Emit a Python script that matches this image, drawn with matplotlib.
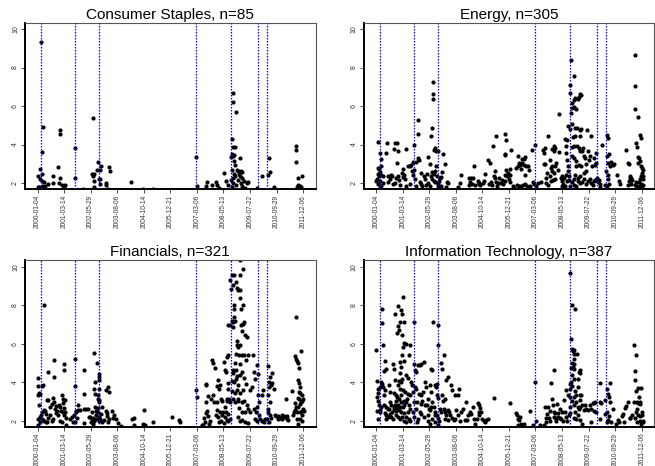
import matplotlib
matplotlib.use('Agg')
import matplotlib.pyplot as plt

plt.rcParams['font.family'] = ['Liberation Sans', 'DejaVu Sans']

titles = ['Consumer Staples, n=85', 'Energy, n=305', 'Financials, n=321',
          'Information Technology, n=387']
tick_days = [1, 301, 601, 901, 1201, 1501, 1801, 2101, 2401, 2701, 3001]
tick_labels = ['2000-01-04', '2001-03-14', '2002-05-29', '2003-08-06', '2004-10-14',
               '2005-12-21', '2007-03-06', '2008-05-13', '2009-07-22', '2010-09-29',
               '2011-12-06']
event_days = [42, 423, 694, 1793, 2189, 2494, 2596]
y_ticks = [2, 4, 6, 8, 10]

# (trading day index, value)
cs_pts = [(39, 9.31), (65, 4.91), (46, 3.59), (31, 2.75), (9, 2.38), (54, 2.47), (31, 2.21),
          (46, 2.12), (69, 2.03), (114, 1.97), (88, 1.86), (20, 1.77), (1, 1.77), (46, 1.83),
          (174, 2.38), (178, 2.0), (235, 2.83), (253, 4.77), (253, 4.56), (257, 2.24),
          (238, 2.0), (276, 1.91), (299, 1.86), (314, 1.91), (295, 1.77), (427, 3.80),
          (423, 2.28), (513, 1.71), (630, 5.38), (619, 2.49), (634, 2.49), (626, 2.35),
          (638, 2.10), (634, 1.79), (675, 2.66), (686, 3.07), (702, 2.69), (694, 2.21),
          (709, 2.21), (717, 2.87), (709, 1.95), (769, 2.0), (777, 1.90), (803, 2.83),
          (822, 2.64), (799, 1.69), (1052, 2.03), (1187, 1.71), (1300, 1.71),
          (1793, 3.35), (1804, 1.83), (1902, 1.83), (1914, 2.03), (1970, 1.91), (2015, 2.07),
          (2034, 1.90), (2053, 1.74), (2113, 2.52), (2132, 2.12), (2158, 1.91), (2207, 6.68),
          (2211, 6.23), (2245, 5.69), (2196, 4.30), (2215, 3.85), (2234, 3.85), (2196, 3.53),
          (2207, 3.39), (2226, 3.47), (2185, 3.33), (2286, 3.30), (2222, 3.14), (2230, 2.94),
          (2196, 2.66), (2249, 2.66), (2264, 2.61), (2301, 2.64), (2316, 2.59), (2279, 2.49),
          (2219, 2.49), (2234, 2.35), (2294, 2.38), (2316, 2.26), (2207, 2.24), (2188, 2.17),
          (2271, 2.17), (2215, 2.0), (2301, 2.0), (2332, 2.09), (2241, 1.90), (2196, 1.77),
          (2309, 1.83), (2347, 1.74), (2369, 2.0), (2384, 2.07), (2475, 1.76), (2542, 2.38),
          (2607, 2.42), (2618, 3.28), (2629, 2.59), (2674, 1.79), (2919, 3.91), (2923, 3.72),
          (2919, 3.09), (2945, 2.28), (2987, 2.35), (2949, 1.88), (2964, 1.83), (2934, 1.77),
          (2979, 1.77)]

en_pts = [(27, 4.11), (42, 3.54), (54, 3.25), (61, 2.90), (16, 2.78), (31, 2.73), (39, 2.55),
          (20, 2.45), (61, 2.42), (77, 2.38), (9, 2.21), (31, 2.35), (1, 2.09), (46, 2.09),
          (20, 1.95), (39, 1.83), (61, 1.83), (77, 2.0), (125, 4.08), (110, 3.56), (137, 2.35),
          (152, 2.21), (129, 2.03), (167, 2.43), (178, 2.35), (190, 1.97), (201, 3.77),
          (216, 4.06), (235, 4.06), (253, 3.68), (238, 3.04), (220, 2.26), (242, 2.38),
          (257, 2.14), (212, 2.0), (272, 1.91), (306, 2.31), (291, 2.52), (303, 2.73),
          (318, 2.42), (333, 3.77), (321, 2.21), (340, 1.83), (378, 1.93), (359, 2.90),
          (382, 2.90), (397, 2.94), (415, 3.07), (408, 2.61), (427, 3.99), (419, 2.43),
          (430, 2.66), (446, 3.07), (438, 2.21), (453, 1.86), (468, 5.26), (472, 4.56),
          (476, 3.28), (483, 3.21), (491, 2.03), (510, 1.95), (521, 1.83), (536, 2.35),
          (551, 2.21), (513, 2.54), (589, 3.35), (574, 2.49), (604, 3.0), (585, 2.0),
          (604, 1.83), (566, 1.88), (626, 4.43), (634, 4.86), (645, 7.23), (641, 6.64),
          (638, 6.38), (649, 3.70), (664, 3.80), (679, 3.65), (656, 2.49), (671, 2.61),
          (630, 2.55), (622, 2.35), (634, 2.21), (649, 2.12), (664, 2.03), (679, 2.87),
          (683, 2.35), (702, 3.65), (694, 1.88), (698, 2.0), (709, 2.10), (717, 2.24),
          (728, 2.31), (705, 1.74), (732, 1.83), (747, 2.55), (754, 3.51), (777, 3.01),
          (799, 2.07), (818, 2.0), (792, 1.79), (927, 1.79), (950, 2.0), (965, 2.40),
          (1104, 2.87), (1055, 2.26), (1074, 2.26), (1093, 2.26), (1063, 2.03), (1086, 1.97),
          (1055, 1.88), (1112, 1.88), (1153, 2.12), (1161, 1.97), (1168, 2.0), (1176, 1.90),
          (1236, 2.49), (1217, 2.09), (1206, 2.0), (1263, 3.21), (1289, 3.04), (1311, 1.88),
          (1281, 1.97), (1304, 2.03), (1319, 3.91), (1338, 2.61), (1353, 4.46), (1334, 2.35),
          (1349, 2.24), (1357, 2.07), (1368, 1.86), (1379, 2.0), (1394, 2.26), (1417, 2.17),
          (1409, 2.0), (1432, 1.95), (1462, 4.53), (1470, 4.22), (1455, 3.49), (1451, 3.46),
          (1470, 2.69), (1462, 2.42), (1477, 2.38), (1488, 2.52), (1455, 2.09),
          (1511, 2.43), (1526, 3.73), (1515, 2.73), (1499, 2.21), (1518, 2.07), (1545, 1.86),
          (1556, 1.74), (1601, 3.42), (1620, 3.04), (1631, 2.92), (1609, 2.87), (1639, 2.73),
          (1586, 2.78), (1654, 3.25), (1669, 3.25), (1688, 3.35), (1654, 3.04), (1676, 2.94),
          (1699, 2.87), (1722, 2.87), (1688, 2.40), (1729, 2.69), (1594, 1.91), (1616, 1.86),
          (1639, 1.83), (1661, 1.91), (1680, 1.95), (1707, 1.83), (1737, 1.83), (1767, 3.73),
          (1797, 3.99), (1774, 2.05), (1789, 1.97), (1804, 1.83), (1835, 2.0), (1865, 2.03),
          (1891, 3.73), (1899, 3.56), (1910, 3.82), (1895, 3.01), (1914, 2.99), (1932, 2.52),
          (1948, 4.43), (1925, 2.26), (1917, 2.0), (1940, 1.90), (1970, 3.21), (1989, 3.77),
          (2008, 3.91), (2023, 3.84), (2008, 3.65), (1989, 2.90), (1978, 2.76), (2027, 2.87),
          (2038, 3.04), (1993, 2.61), (2015, 2.52), (1970, 2.35), (1981, 2.12), (2000, 2.14),
          (2027, 2.21), (2053, 2.69), (2068, 5.59), (2072, 3.63), (2091, 2.24), (2102, 2.10),
          (2106, 2.35), (2121, 2.26), (2113, 1.93), (2136, 1.86), (2106, 1.83), (2151, 3.56),
          (2158, 3.21), (2140, 4.29), (2151, 3.91), (2170, 2.87), (2143, 2.43), (2158, 4.25),
          (2173, 4.98), (2188, 4.81), (2166, 2.61), (2181, 2.35), (2177, 2.17), (2158, 2.09),
          (2188, 1.83), (2196, 7.11), (2196, 6.68), (2207, 8.41), (2215, 5.07), (2204, 5.64),
          (2211, 5.92), (2219, 6.16), (2234, 6.33), (2234, 5.95), (2234, 7.55), (2245, 6.40),
          (2252, 4.88), (2260, 5.86), (2271, 4.86), (2252, 4.43), (2230, 4.37), (2219, 3.87),
          (2241, 3.91), (2271, 3.91), (2290, 3.80), (2316, 4.81), (2301, 4.77), (2309, 6.64),
          (2316, 6.56), (2294, 6.47), (2279, 6.35), (2301, 4.43), (2309, 3.65), (2324, 3.65),
          (2339, 3.80), (2215, 3.39), (2234, 3.30), (2256, 3.16), (2264, 2.87), (2290, 2.92),
          (2316, 2.87), (2347, 3.39), (2362, 3.30), (2377, 2.97), (2384, 4.77), (2392, 3.65),
          (2407, 3.21), (2422, 3.42), (2433, 4.43), (2441, 2.87), (2460, 3.30), (2475, 2.94),
          (2490, 3.56), (2482, 3.04), (2377, 2.64), (2347, 2.52), (2309, 2.35), (2286, 2.26),
          (2279, 2.09), (2252, 2.43), (2234, 2.21), (2215, 2.03), (2241, 1.90), (2264, 1.83),
          (2301, 2.0), (2328, 2.03), (2354, 2.21), (2369, 1.97), (2392, 2.09), (2414, 2.23),
          (2429, 2.0), (2452, 1.88), (2460, 2.10), (2478, 2.14), (2497, 2.24), (2520, 2.17),
          (2512, 2.03), (2535, 1.95), (2527, 1.79), (2550, 3.99), (2584, 1.88), (2599, 2.61),
          (2610, 4.51), (2621, 4.34), (2610, 3.42), (2633, 3.51), (2618, 3.04), (2640, 2.87),
          (2655, 3.07), (2678, 2.94), (2685, 3.01), (2618, 2.43), (2625, 2.21), (2633, 1.97),
          (2610, 1.83), (2723, 2.42), (2742, 2.09), (2753, 1.97), (2828, 3.70), (2844, 3.04),
          (2859, 3.01), (2874, 2.35), (2866, 2.28), (2881, 2.24), (2855, 2.09), (2896, 2.17),
          (2885, 1.97), (2844, 1.88), (2926, 8.67), (2923, 7.03), (2930, 5.85), (2956, 5.43),
          (2949, 3.87), (2941, 4.08), (2987, 4.51), (2994, 4.34), (2960, 3.35), (2972, 3.30),
          (2964, 3.04), (2987, 3.13), (2994, 2.87), (3009, 2.78), (3017, 2.66), (3009, 2.52),
          (2994, 2.35), (2979, 2.21), (3017, 2.35), (3015, 2.21), (2968, 2.03), (2994, 1.97),
          (3015, 1.91), (2949, 1.86), (2926, 1.91), (2934, 2.03), (2975, 1.83), (3005, 1.86)]

fin_pts = [(1, 4.22), (9, 3.80), (16, 3.46), (31, 3.39), (46, 3.80), (58, 3.84), (69, 8.03),
           (1, 3.35), (20, 2.80), (9, 2.10), (24, 2.17), (39, 2.28), (54, 2.45), (69, 2.54),
           (84, 2.52), (92, 2.36), (46, 2.07), (61, 2.03), (77, 2.0), (92, 1.93), (107, 1.93),
           (31, 1.93), (1, 1.79), (114, 2.14), (107, 3.06), (122, 3.07), (114, 4.55),
           (171, 3.18), (190, 5.14), (190, 4.25), (163, 2.87), (144, 2.71), (190, 2.97),
           (205, 2.76), (197, 2.59), (220, 2.49), (208, 2.38), (227, 2.28), (171, 2.10),
           (159, 2.0), (144, 2.28), (246, 2.80), (257, 2.71), (280, 3.35), (295, 4.95),
           (295, 4.63), (284, 3.11), (287, 2.90), (303, 2.66), (314, 3.06), (265, 2.52),
           (284, 2.45), (295, 2.31), (310, 2.45), (325, 2.14), (257, 2.0), (272, 1.93),
           (321, 1.76), (370, 2.07), (385, 2.17), (397, 1.93), (415, 2.31), (427, 5.22),
           (427, 3.78), (430, 2.45), (434, 2.52), (453, 2.83), (461, 2.55), (483, 2.54),
           (446, 2.14), (423, 1.93), (521, 4.63), (521, 3.40), (528, 2.59), (547, 2.59),
           (566, 2.59), (528, 1.90), (581, 2.17), (596, 2.21), (611, 2.10), (622, 2.14),
           (604, 1.93), (626, 1.84), (619, 2.45), (634, 5.52), (649, 3.40), (641, 3.66),
           (649, 4.01), (653, 2.71), (660, 2.49), (656, 2.28), (664, 2.10), (634, 2.0),
           (671, 5.02), (686, 3.32), (698, 3.63), (694, 4.11), (694, 4.27), (698, 4.44),
           (686, 3.11), (690, 2.97), (698, 3.06), (679, 2.66), (686, 2.45), (698, 2.19),
           (717, 2.36), (702, 2.10), (690, 1.97), (724, 2.71), (732, 1.93), (754, 2.05),
           (769, 3.58), (773, 2.49), (784, 2.42), (799, 3.75), (811, 3.49), (784, 2.24),
           (814, 2.10), (799, 1.93), (837, 2.49), (848, 2.14), (867, 2.28), (882, 2.10),
           (912, 1.90), (943, 1.71), (1067, 2.07), (1086, 2.14), (1093, 1.76), (1187, 1.84),
           (1206, 2.55), (1214, 1.76), (1311, 1.93),
           (1518, 2.17), (1594, 2.02), (1612, 1.93), (1793, 3.61), (1801, 3.23), (1857, 1.76),
           (1876, 1.79), (1895, 1.93), (1887, 2.14), (1902, 2.40), (1914, 2.49), (1902, 2.97),
           (1906, 3.91), (1910, 3.84), (1925, 3.27), (1932, 2.24), (1940, 1.84), (1951, 1.97),
           (1963, 3.11), (1970, 5.14), (1989, 5.0), (1978, 3.32), (2000, 2.97), (2008, 4.74),
           (2015, 2.28), (2027, 2.97), (2027, 2.57), (2034, 3.80), (2045, 4.10), (2053, 3.66),
           (2060, 2.45), (2068, 3.84), (2076, 3.14), (2083, 3.02), (2038, 2.19), (2053, 1.93),
           (2072, 2.0), (2083, 2.31), (2098, 2.45), (2106, 1.90), (2113, 5.05), (2121, 4.62),
           (2132, 4.53), (2143, 5.31), (2151, 5.40), (2151, 3.98), (2158, 3.66), (2140, 3.01),
           (2143, 3.14), (2166, 3.14), (2181, 2.97), (2121, 2.69), (2132, 2.45), (2151, 2.36),
           (2121, 2.19), (2140, 2.02), (2158, 1.97), (2170, 2.07), (2151, 6.97), (2173, 6.96),
           (2177, 9.33), (2188, 8.86), (2196, 9.56), (2207, 9.07), (2222, 9.56), (2226, 7.82),
           (2219, 8.0), (2241, 9.21), (2256, 8.90), (2264, 8.78), (2196, 7.18), (2207, 7.13),
           (2215, 6.89), (2234, 7.16), (2222, 7.39), (2249, 6.12), (2256, 5.92), (2241, 5.45),
           (2264, 5.81), (2234, 5.02), (2215, 4.65), (2241, 4.62), (2256, 4.32), (2215, 4.50),
           (2196, 4.08), (2222, 4.01), (2245, 4.15), (2264, 3.84), (2196, 3.53), (2234, 3.46),
           (2256, 3.58), (2207, 3.14), (2234, 2.97), (2271, 3.01), (2294, 10.32), (2320, 9.90),
           (2283, 9.56), (2286, 8.78), (2294, 8.38), (2301, 7.82), (2328, 8.0), (2335, 7.13),
           (2313, 6.64), (2324, 7.04), (2301, 6.99), (2347, 6.44), (2286, 5.95), (2279, 5.40),
           (2294, 4.96), (2309, 5.43), (2339, 5.43), (2358, 5.14), (2294, 4.36), (2316, 4.53),
           (2339, 4.22), (2354, 3.92), (2324, 3.58), (2294, 3.46), (2271, 3.14), (2309, 2.97),
           (2335, 3.01), (2365, 2.80), (2279, 2.66), (2309, 2.45), (2347, 2.45), (2384, 2.62),
           (2403, 2.45), (2271, 2.19), (2290, 2.0), (2316, 2.02), (2347, 1.93), (2377, 1.90),
           (2369, 6.37), (2384, 5.40), (2407, 3.58), (2422, 3.75), (2437, 5.40), (2444, 4.53),
           (2460, 4.18), (2467, 2.45), (2452, 2.62), (2482, 2.71), (2475, 4.88), (2490, 4.44),
           (2490, 3.32), (2505, 2.97), (2460, 2.10), (2486, 1.97), (2505, 2.28), (2520, 2.07),
           (2535, 3.32), (2550, 3.58), (2535, 1.97), (2557, 1.93), (2573, 2.10), (2591, 2.10),
           (2603, 2.45), (2610, 3.32), (2618, 4.01), (2610, 4.84), (2621, 3.75), (2633, 4.27),
           (2640, 3.87), (2648, 3.98), (2633, 2.97), (2610, 2.62), (2625, 2.31), (2640, 2.16),
           (2618, 1.93), (2655, 4.50), (2670, 3.66), (2685, 2.28), (2700, 2.24), (2716, 2.07),
           (2723, 2.23), (2738, 2.14), (2761, 2.10), (2768, 2.28), (2783, 2.24), (2798, 2.19),
           (2817, 2.24), (2821, 2.10), (2806, 3.14), (2836, 2.02), (2874, 3.53), (2893, 2.31),
           (2904, 2.45), (2911, 2.54), (2911, 2.94), (2923, 7.39), (2911, 5.34), (2923, 5.22),
           (2930, 5.08), (2941, 5.02), (2956, 4.74), (2979, 5.60), (2949, 4.10), (2960, 3.94),
           (2972, 3.75), (2960, 3.49), (2972, 3.46), (2941, 3.18), (2960, 3.14), (2968, 2.88),
           (2979, 2.97), (2987, 3.01), (2994, 3.32), (3002, 3.11), (2919, 2.71), (2949, 2.71),
           (2934, 2.45), (2964, 2.45), (2987, 2.49), (3005, 2.62), (3017, 2.52), (2994, 2.31),
           (2934, 2.10), (2964, 2.10), (2987, 1.97), (2941, 1.84)]

it_pts = [(1, 5.67), (9, 4.04), (16, 3.66), (20, 3.46), (12, 3.23), (24, 3.01), (31, 2.80),
          (9, 2.49), (20, 2.10), (39, 2.54), (46, 2.45), (58, 2.71), (46, 3.75), (61, 4.01),
          (69, 7.82), (65, 7.09), (77, 5.95), (69, 3.92), (77, 3.75), (88, 4.56), (95, 5.12),
          (107, 4.70), (99, 3.58), (92, 3.32), (84, 2.83), (114, 2.69), (133, 2.59),
          (99, 2.38), (114, 2.28), (129, 2.17), (107, 2.07), (144, 3.87), (152, 3.49),
          (159, 2.97), (171, 2.80), (144, 2.62), (159, 2.36), (174, 2.17), (190, 2.10),
          (182, 2.45), (197, 2.71), (190, 4.96), (205, 4.70), (212, 4.13), (205, 3.46),
          (220, 3.35), (235, 3.25), (227, 3.01), (212, 2.83), (205, 2.62), (220, 2.50),
          (235, 2.66), (246, 2.83), (227, 2.28), (246, 2.21), (208, 7.55), (246, 7.96),
          (238, 6.56), (242, 6.90), (257, 6.70), (272, 7.13), (284, 7.77), (295, 7.53),
          (306, 8.41), (310, 7.13), (291, 6.47), (303, 5.81), (318, 6.06), (310, 5.08),
          (333, 5.99), (378, 5.95), (295, 5.40), (265, 5.05), (284, 4.79), (272, 4.50),
          (257, 4.04), (280, 4.01), (295, 4.15), (250, 3.84), (272, 3.66), (303, 3.58),
          (321, 3.49), (284, 3.32), (257, 3.11), (287, 2.97), (310, 3.02), (333, 2.97),
          (272, 2.71), (303, 2.71), (318, 2.83), (257, 2.54), (287, 2.45), (318, 2.42),
          (265, 2.10), (295, 2.19), (310, 2.0), (333, 1.93), (340, 4.36), (355, 4.22),
          (370, 5.40), (355, 3.40), (378, 3.32), (351, 3.14), (370, 2.80), (385, 2.62),
          (359, 2.45), (340, 2.19), (370, 2.10), (385, 1.97), (397, 4.01), (408, 3.84),
          (415, 3.49), (423, 2.97), (415, 2.45), (427, 7.13), (423, 4.96), (427, 2.19),
          (434, 4.62), (446, 4.53), (442, 3.75), (453, 3.66), (461, 2.97), (446, 2.62),
          (468, 2.10), (461, 1.93), (472, 4.88), (491, 4.88), (513, 4.96), (483, 3.40),
          (502, 3.32), (521, 3.01), (528, 3.49), (506, 2.88), (491, 2.45), (513, 2.36),
          (536, 2.19), (551, 2.80), (536, 5.05), (558, 4.01), (566, 3.75), (585, 3.11),
          (574, 2.83), (596, 2.59), (581, 2.28), (589, 2.0), (604, 2.54), (611, 3.84),
          (619, 3.49), (622, 4.70), (634, 4.62), (641, 7.13), (634, 2.97), (622, 2.71),
          (649, 2.71), (660, 2.28), (634, 2.10), (611, 1.84), (671, 3.84), (679, 3.75),
          (686, 3.92), (698, 6.96), (698, 5.92), (690, 3.32), (702, 3.18), (702, 2.14),
          (671, 2.45), (686, 2.31), (717, 2.62), (732, 2.45), (671, 1.93), (694, 1.79),
          (709, 2.0), (735, 5.02), (747, 4.70), (762, 5.40), (747, 3.32), (754, 3.04),
          (773, 3.14), (762, 2.59), (777, 2.45), (792, 2.28), (807, 2.54), (784, 2.10),
          (807, 2.02), (792, 4.11), (814, 4.29), (822, 2.45), (837, 2.28), (848, 3.84),
          (860, 3.58), (860, 2.14), (875, 2.02), (890, 2.10), (897, 3.35), (924, 3.35),
          (935, 3.66), (905, 2.54), (920, 2.28), (943, 1.97), (961, 2.45), (980, 2.62),
          (999, 2.02), (1018, 2.97), (1025, 2.03), (1040, 2.28), (1063, 2.45), (1074, 2.36),
          (1093, 2.69), (1108, 2.10), (1123, 1.84), (1138, 2.10), (1150, 2.94), (1161, 2.83),
          (1161, 2.45), (1168, 2.28), (1176, 2.66), (1191, 2.45), (1198, 2.10), (1214, 2.0),
          (1225, 1.93), (1244, 2.02), (1266, 2.07), (1334, 3.20),
          (1518, 2.90), (1586, 2.42), (1594, 2.28), (1601, 2.10), (1616, 2.02), (1631, 2.19),
          (1639, 1.84), (1609, 1.79), (1676, 1.83), (1737, 2.52), (1774, 1.79), (1793, 4.01),
          (1808, 1.97), (1857, 1.76), (1895, 1.79), (1917, 1.93), (1925, 2.14), (1932, 2.33),
          (1914, 2.69), (1940, 2.71), (1963, 2.49), (1955, 2.14), (1970, 2.0), (1978, 3.96),
          (1993, 3.14), (2000, 2.83), (2008, 4.62), (2008, 2.45), (2023, 2.38), (2015, 2.17),
          (2030, 2.07), (2038, 2.0), (2045, 2.88), (2053, 2.42), (2060, 2.19), (2076, 2.14),
          (2083, 2.59), (2091, 2.10), (2106, 2.45), (2113, 1.97), (2128, 3.06), (2140, 2.45),
          (2143, 3.58), (2151, 2.19), (2158, 1.97), (2170, 3.35), (2177, 2.28), (2188, 2.71),
          (2192, 2.42), (2196, 9.69), (2207, 4.01), (2215, 8.0), (2245, 7.82), (2207, 6.26),
          (2215, 5.71), (2226, 5.60), (2234, 5.66), (2241, 5.48), (2234, 5.22), (2215, 5.02),
          (2241, 4.96), (2207, 4.74), (2230, 4.79), (2241, 4.70), (2301, 4.62), (2294, 4.53),
          (2305, 4.46), (2271, 5.48), (2283, 4.15), (2215, 4.36), (2234, 4.15), (2196, 3.92),
          (2219, 3.80), (2249, 3.53), (2264, 3.35), (2279, 3.75), (2301, 3.35), (2316, 3.32),
          (2309, 3.06), (2234, 3.23), (2196, 3.66), (2188, 3.21), (2211, 3.04), (2241, 2.83),
          (2264, 2.97), (2279, 2.71), (2290, 2.59), (2309, 2.71), (2332, 2.83), (2347, 2.54),
          (2362, 2.80), (2377, 2.62), (2392, 2.54), (2414, 2.83), (2429, 2.62), (2452, 2.94),
          (2467, 2.94), (2252, 2.45), (2279, 2.31), (2234, 2.14), (2256, 2.07), (2309, 2.02),
          (2332, 1.84), (2429, 1.93), (2460, 2.49), (2478, 2.97), (2486, 2.45), (2535, 3.98),
          (2527, 2.97), (2542, 2.94), (2527, 2.07), (2584, 2.36), (2591, 3.06), (2610, 3.66),
          (2618, 3.40), (2629, 3.23), (2640, 3.94), (2648, 2.97), (2610, 2.45), (2633, 2.24),
          (2625, 2.03), (2610, 1.93), (2655, 1.93), (2678, 2.62), (2716, 1.84), (2738, 2.02),
          (2746, 1.93), (2776, 2.24), (2791, 2.36), (2817, 2.66), (2828, 2.76), (2806, 1.93),
          (2844, 2.97), (2866, 2.16), (2874, 2.14), (2896, 2.31), (2911, 2.97), (2919, 5.95),
          (2934, 5.43), (2923, 4.56), (2930, 4.13), (2941, 3.53), (2956, 3.70), (2972, 3.25),
          (2987, 2.88), (2994, 3.70), (2949, 2.97), (2964, 2.90), (2979, 2.97), (2934, 2.45),
          (2949, 2.59), (2964, 2.31), (2987, 2.24), (3002, 2.45), (3009, 2.28), (2926, 2.14),
          (2949, 1.93), (2979, 1.97), (2994, 1.84), (3017, 1.93), (3015, 2.0)]

panels = [cs_pts, en_pts, fin_pts, it_pts]

fig = plt.figure(figsize=(6.55, 4.66), dpi=100)
positions = [[0.038, 0.594, 0.444, 0.357], [0.555, 0.594, 0.444, 0.357],
             [0.038, 0.084, 0.444, 0.357], [0.555, 0.084, 0.444, 0.357]]

for pos, title, pts in zip(positions, titles, panels):
    ax = fig.add_axes(pos)
    xs = [p[0] for p in pts]
    ys = [p[1] for p in pts]
    ax.plot(xs, ys, 'o', color='black', ms=3.0, mew=0, zorder=2)
    for d in event_days:
        ax.axvline(d, color='blue', ls=(0, (1.2, 1.2)), lw=0.9, zorder=3)
    ax.set_xlim(-142, 3144)
    ax.set_ylim(1.68, 10.32)
    ax.set_xticks(tick_days)
    ax.set_xticklabels(tick_labels, rotation=90, fontsize=4.7)
    ax.set_yticks(y_ticks)
    ax.set_yticklabels([str(v) for v in y_ticks], rotation=90, fontsize=5, va='center')
    ax.tick_params(length=3, width=0.6, pad=1.2, colors='#333333')
    for side in ['left', 'bottom']:
        ax.spines[side].set_linewidth(1.4)
        ax.spines[side].set_color('black')
    for side in ['top', 'right']:
        ax.spines[side].set_linewidth(0.8)
        ax.spines[side].set_color('#555555')
    ax.set_title(title, fontsize=11, pad=3)

fig.savefig('out.png', dpi=100)
